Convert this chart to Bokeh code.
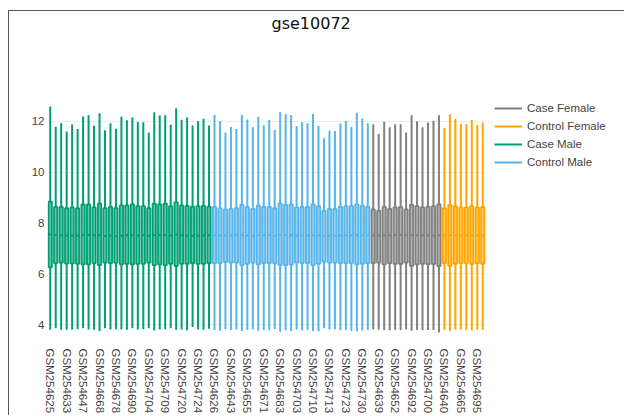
import math
import numpy as np
from bokeh.plotting import figure
from bokeh.models import ColumnDataSource, FixedTicker, Legend, LegendItem, Range1d
from bokeh.embed import file_html
from bokeh.resources import INLINE

# ---------------- data ----------------
group_names = ["Case Male", "Control Male", "Case Female", "Control Female"]
group_sizes = [30, 29, 13, 8]
group_colors = ["#009E73", "#56B4E9", "#808080", "#FFA500"]
legend_order = ["Case Female", "Control Female", "Case Male", "Control Male"]

tick_labels = [
    "GSM254625", "GSM254633", "GSM254647", "GSM254668", "GSM254678",
    "GSM254690", "GSM254704", "GSM254709", "GSM254720", "GSM254724",
    "GSM254626", "GSM254643", "GSM254655", "GSM254671", "GSM254683",
    "GSM254703", "GSM254710", "GSM254713", "GSM254723", "GSM254730",
    "GSM254639", "GSM254652", "GSM254692", "GSM254700",
    "GSM254640", "GSM254665", "GSM254695",
]
tick_every = 3

upper = [
    # Case Male
    12.57, 11.78, 11.92, 11.59, 11.87, 11.69, 12.18, 12.23, 11.82, 12.31,
    11.64, 11.92, 11.70, 12.17, 12.03, 12.14, 11.96, 11.95, 11.55, 12.35,
    12.22, 12.23, 11.86, 12.50, 12.05, 12.14, 11.83, 11.99, 12.09, 11.83,
    # Control Male
    12.24, 11.99, 11.55, 11.77, 11.69, 12.24, 12.06, 11.76, 12.17, 11.84,
    12.04, 11.65, 12.36, 12.27, 12.24, 11.81, 11.95, 11.92, 12.28, 11.81,
    11.33, 11.63, 11.61, 11.91, 12.00, 11.77, 12.33, 12.10, 11.92,
    # Case Female
    11.88, 11.49, 11.97, 11.76, 11.88, 11.88, 11.55, 12.23, 11.99, 11.76,
    11.94, 12.01, 12.23,
    # Control Female
    11.73, 12.27, 12.08, 11.90, 11.88, 12.04, 11.85, 11.94,
]
q3 = [
    8.84, 8.63, 8.63, 8.58, 8.61, 8.58, 8.73, 8.73, 8.61, 8.76,
    8.58, 8.63, 8.58, 8.69, 8.69, 8.73, 8.66, 8.66, 8.58, 8.76,
    8.73, 8.76, 8.66, 8.81, 8.69, 8.67, 8.64, 8.66, 8.67, 8.64,
    8.63, 8.58, 8.53, 8.55, 8.58, 8.71, 8.63, 8.55, 8.68, 8.63,
    8.63, 8.58, 8.76, 8.71, 8.73, 8.61, 8.63, 8.63, 8.73, 8.66,
    8.48, 8.55, 8.55, 8.63, 8.66, 8.66, 8.73, 8.68, 8.63,
    8.53, 8.48, 8.63, 8.55, 8.61, 8.63, 8.53, 8.71, 8.66, 8.61,
    8.63, 8.66, 8.73,
    8.58, 8.71, 8.66, 8.61, 8.61, 8.66, 8.61, 8.63,
]
median = [
    7.55, 7.53, 7.52, 7.50, 7.51, 7.50, 7.52, 7.53, 7.52, 7.53,
    7.49, 7.50, 7.48, 7.50, 7.52, 7.52, 7.51, 7.52, 7.50, 7.53,
    7.52, 7.53, 7.51, 7.54, 7.52, 7.50, 7.50, 7.50, 7.51, 7.52,
    7.52, 7.51, 7.50, 7.51, 7.52, 7.53, 7.51, 7.50, 7.52, 7.51,
    7.52, 7.49, 7.53, 7.52, 7.52, 7.50, 7.51, 7.51, 7.52, 7.51,
    7.48, 7.50, 7.50, 7.51, 7.52, 7.51, 7.52, 7.51, 7.51,
    7.51, 7.50, 7.52, 7.52, 7.52, 7.53, 7.52, 7.53, 7.52, 7.52,
    7.51, 7.51, 7.52,
    7.51, 7.52, 7.51, 7.51, 7.51, 7.52, 7.51, 7.51,
]
q1 = [
    6.26, 6.42, 6.44, 6.40, 6.41, 6.39, 6.37, 6.37, 6.42, 6.34,
    6.44, 6.42, 6.44, 6.37, 6.39, 6.37, 6.39, 6.39, 6.44, 6.34,
    6.37, 6.34, 6.39, 6.31, 6.39, 6.39, 6.42, 6.39, 6.39, 6.42,
    6.42, 6.42, 6.47, 6.44, 6.44, 6.34, 6.39, 6.44, 6.37, 6.42,
    6.42, 6.42, 6.35, 6.34, 6.37, 6.44, 6.42, 6.42, 6.34, 6.39,
    6.48, 6.44, 6.44, 6.42, 6.42, 6.42, 6.37, 6.39, 6.42,
    6.42, 6.44, 6.37, 6.42, 6.39, 6.39, 6.44, 6.31, 6.37, 6.39,
    6.38, 6.38, 6.31,
    6.42, 6.31, 6.39, 6.42, 6.42, 6.39, 6.42, 6.39,
]
lower = [
    3.81, 3.86, 3.81, 3.81, 3.82, 3.83, 3.86, 3.82, 3.81, 3.76,
    3.86, 3.82, 3.83, 3.82, 3.81, 3.86, 3.82, 3.83, 3.86, 3.78,
    3.82, 3.83, 3.86, 3.81, 3.82, 3.79, 3.91, 3.82, 3.81, 3.85,
    3.80, 3.78, 3.83, 3.80, 3.82, 3.76, 3.80, 3.82, 3.77, 3.80,
    3.79, 3.84, 3.73, 3.78, 3.76, 3.82, 3.79, 3.80, 3.76, 3.75,
    3.86, 3.82, 3.83, 3.79, 3.80, 3.76, 3.74, 3.78, 3.80,
    3.83, 3.82, 3.80, 3.79, 3.81, 3.80, 3.82, 3.77, 3.80, 3.79,
    3.80, 3.80, 3.70,
    3.80, 3.76, 3.81, 3.82, 3.80, 3.78, 3.81, 3.80,
]

# ---------------- figure ----------------
FONT = "Liberation Sans"
n = len(upper)
xs = np.arange(n)
# extra empty room to the right of the boxes holds the legend
legend_room = 23.2

p = figure(
    width=616, height=405,
    output_backend="svg", toolbar_location=None,
    x_range=Range1d(-0.5, n - 0.5 + legend_room), y_range=Range1d(3.266, 13.005),
    min_border_left=38, min_border_right=13, min_border_top=83, min_border_bottom=70,
    title="gse10072",
)
p.margin = (10, 0, 0, 8)
p.styles = {"border-left": "1px solid #555555", "border-top": "1px solid #555555"}

p.title.align = "left"
p.title.offset = 224
p.title.vertical_align = "bottom"
p.title.standoff = 0
p.title.padding = (0, 0, 0, 63)
p.title.text_font = "DejaVu Sans"
p.title.text_font_size = "16px"
p.title.text_font_style = "normal"
p.title.text_color = "#111111"

p.outline_line_color = None
p.background_fill_color = "white"
p.border_fill_color = "white"
p.xgrid.grid_line_color = None
p.ygrid.grid_line_color = "#ececec"
p.ygrid.grid_line_width = 1
p.ygrid.cross_bounds = (-0.5, n - 0.5)

p.yaxis.ticker = FixedTicker(ticks=[4, 6, 8, 10, 12])
p.yaxis.axis_line_color = None
p.yaxis.major_tick_line_color = None
p.yaxis.minor_tick_line_color = None
p.yaxis.major_tick_out = 0
p.yaxis.major_label_standoff = 3
p.yaxis.major_label_text_font = FONT
p.yaxis.major_label_text_font_size = "11.5px"
p.yaxis.major_label_text_color = "#444444"

tick_pos = list(range(0, n, tick_every))
p.xaxis.ticker = FixedTicker(ticks=tick_pos)
p.xaxis.major_label_overrides = {t: lab for t, lab in zip(tick_pos, tick_labels)}
p.xaxis.major_label_orientation = -math.pi / 2
p.xaxis.axis_line_color = None
p.xaxis.major_tick_line_color = None
p.xaxis.minor_tick_line_color = None
p.xaxis.major_tick_out = 0
p.xaxis.major_tick_in = 0
p.xaxis.major_label_standoff = 5
p.xaxis.major_label_text_font = FONT
p.xaxis.major_label_text_font_size = "11.5px"
p.xaxis.major_label_text_color = "#444444"

BOX_W = 0.6
legend_renderers = {}
start = 0
for name, size, color in zip(group_names, group_sizes, group_colors):
    sl = slice(start, start + size)
    src = ColumnDataSource(dict(
        x=xs[sl], hi=upper[sl], q3=q3[sl], med=median[sl], q1=q1[sl], lo=lower[sl],
        xl=xs[sl] - BOX_W / 2, xr=xs[sl] + BOX_W / 2,
    ))
    r_top = p.segment(x0="x", y0="q3", x1="x", y1="hi", source=src,
                      line_color=color, line_width=2)
    p.segment(x0="x", y0="lo", x1="x", y1="q1", source=src,
              line_color=color, line_width=2)
    p.vbar(x="x", width=BOX_W, bottom="q1", top="q3", source=src,
           fill_color=color, fill_alpha=0.6, line_color=color, line_width=1.8)
    p.segment(x0="xl", y0="med", x1="xr", y1="med", source=src,
              line_color=color, line_width=2)
    legend_renderers[name] = r_top
    start += size

legend = Legend(
    items=[LegendItem(label=nm, renderers=[legend_renderers[nm]]) for nm in legend_order],
    location=(447, 172),
    orientation="vertical",
    padding=4, spacing=0, margin=0,
    glyph_width=28, glyph_height=18, label_height=18, label_standoff=5,
    label_text_font=FONT, label_text_font_size="11.5px", label_text_color="#444444",
    border_line_color=None, background_fill_alpha=0,
)
p.add_layout(legend)

open("out.html", "w").write(file_html(p, INLINE))
